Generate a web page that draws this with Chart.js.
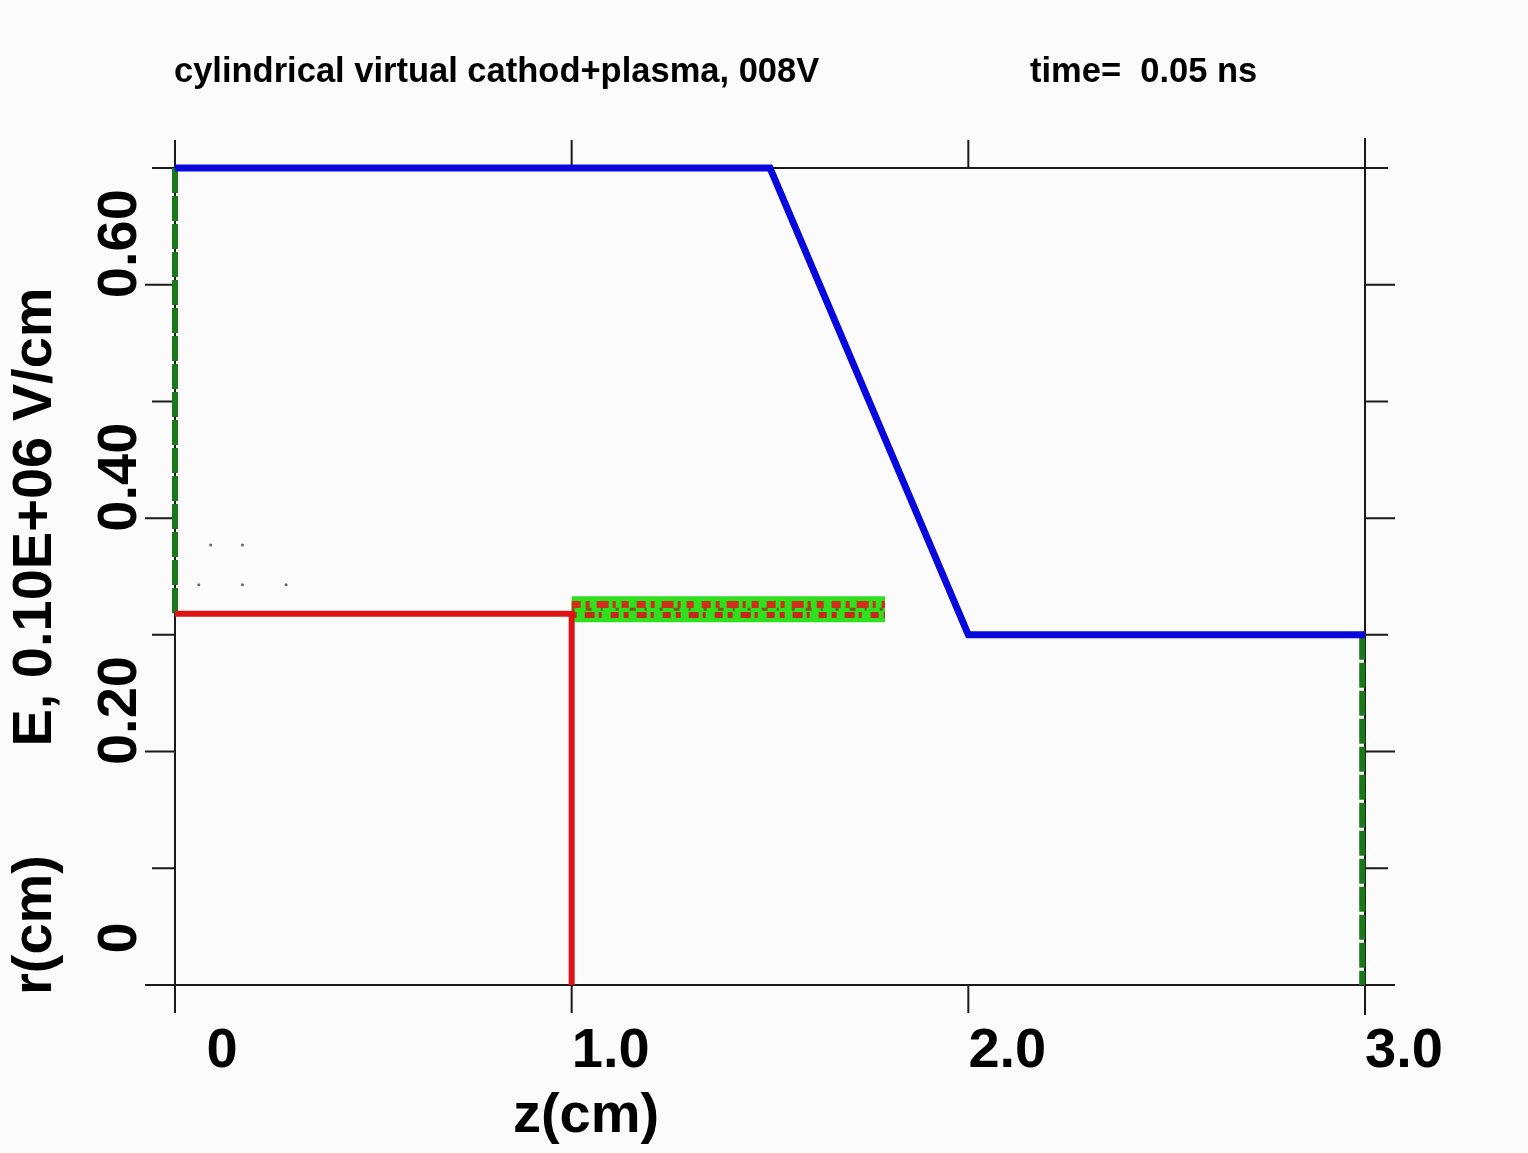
<!DOCTYPE html>
<html>
<head>
<meta charset="utf-8">
<script src="https://cdn.jsdelivr.net/npm/chart.js@4.4.1/dist/chart.umd.min.js"></script>
<style>
  body { margin: 0; background: #fbfbfb; }
  canvas { display: block; }
</style>
</head>
<body>
<canvas id="plot" width="1528" height="1153"></canvas>
<script>
// values
const titleLeft = 'cylindrical virtual cathod+plasma, 008V';
const titleRight = 'time=  0.05 ns';
const xTitle = 'z(cm)';
const yTitleTop = 'E, 0.10E+06 V/cm';
const yTitleBottom = 'r(cm)';

const xTicks = [0, 1, 2, 3];
const xTickLabels = ['0', '1.0', '2.0', '3.0'];
const yTicks = [0, 0.1, 0.2, 0.3, 0.4, 0.5, 0.6, 0.7];
const yMajor = [0, 0.2, 0.4, 0.6];
const yMajorLabels = ['0', '0.20', '0.40', '0.60'];

// E field (blue)
const zField = [0, 1.5, 2.0, 3.0];
const eField = [0.70, 0.70, 0.30, 0.30];
// cathode outline (red)
const zCathode = [0, 1.0, 1.0];
const rCathode = [0.318, 0.318, 0];
// wall markers (green dashed)
const zWallLeft = [0, 0];
const rWallLeft = [0.70, 0.318];
const zWallRight = [2.993, 2.993];
const rWallRight = [0.30, 0];
// plasma beam band
const zPlasma = [1.0, 1.79];
const rPlasma = [0.322, 0.322];
// stray particles
const zStray = [0.09, 0.17, 0.06, 0.17, 0.28];
const rStray = [0.377, 0.377, 0.343, 0.343, 0.343];

function pts(xs, ys) {
    return xs.map((x, i) => ({x: x, y: ys[i]}));
}

const FONT = '"Liberation Sans", Arial, sans-serif';

const frame = {
    id: 'frame',
    beforeDraw(chart) {
        const c = chart.ctx;
        c.save();
        c.fillStyle = '#fbfbfb';
        c.fillRect(0, 0, chart.width, chart.height);
        c.restore();
    },
    beforeDatasetsDraw(chart) {
        const c = chart.ctx;
        const x = chart.scales.x, y = chart.scales.y;
        const L = x.getPixelForValue(0), R = x.getPixelForValue(3);
        const T = y.getPixelForValue(0.7), B = y.getPixelForValue(0);
        c.save();
        c.strokeStyle = '#1a1a1a';
        c.lineWidth = 2;
        c.beginPath();
        // vertical axes, sticking out top and bottom
        c.moveTo(L, T - 28); c.lineTo(L, B + 28);
        c.moveTo(R, T - 30); c.lineTo(R, B + 30);
        // x ticks top and bottom
        xTicks.forEach(v => {
            const px = x.getPixelForValue(v);
            c.moveTo(px, T - 28); c.lineTo(px, T);
            c.moveTo(px, B); c.lineTo(px, B + 28);
        });
        // y ticks, the labelled ones longer
        yTicks.forEach(v => {
            const py = y.getPixelForValue(v);
            const major = yMajor.some(m => Math.abs(m - v) < 1e-6);
            const len = major ? 30 : 23;
            if (v === 0 || Math.abs(v - 0.7) < 1e-6) {
                c.moveTo(L - len, py); c.lineTo(R + len, py);
            } else {
                c.moveTo(L - len, py); c.lineTo(L, py);
                c.moveTo(R, py); c.lineTo(R + len, py);
            }
        });
        c.stroke();
        c.restore();
    },
    afterDraw(chart) {
        const c = chart.ctx;
        const x = chart.scales.x, y = chart.scales.y;
        c.save();
        c.fillStyle = '#000';
        c.font = 'bold 34.5px ' + FONT;
        c.textBaseline = 'alphabetic';
        c.textAlign = 'left';
        c.fillText(titleLeft, 174, 82);
        c.fillText(titleRight, 1030, 82);

        c.font = 'bold 56px ' + FONT;
        c.textAlign = 'center';
        c.textBaseline = 'middle';
        xTicks.forEach((v, i) => {
            const shift = xTickLabels[i] === '0' ? 47 : 39;
            c.fillText(xTickLabels[i], x.getPixelForValue(v) + shift, 1052);
        });
        c.fillText(xTitle, 586, 1117);

        yMajor.forEach((v, i) => {
            const shift = yMajorLabels[i] === '0' ? 47 : 41;
            c.save();
            c.translate(121, y.getPixelForValue(v) - shift);
            c.rotate(-Math.PI / 2);
            c.fillText(yMajorLabels[i], 0, 0);
            c.restore();
        });
        [[yTitleTop, 517], [yTitleBottom, 925]].forEach(t => {
            c.save();
            c.translate(36, t[1]);
            c.rotate(-Math.PI / 2);
            c.fillText(t[0], 0, 0);
            c.restore();
        });
        c.restore();
    }
};

const line = (data, color, width, extra) => Object.assign({
    data: data,
    borderColor: color,
    backgroundColor: color,
    borderWidth: width,
    pointRadius: 0,
    fill: false,
    tension: 0,
    clip: false,
    borderCapStyle: 'butt',
    borderJoinStyle: 'miter'
}, extra || {});

// Chart.js paints dataset 0 last, so the list runs top layer first
new Chart(document.getElementById('plot'), {
    type: 'line',
    data: {
        datasets: [
            {
                type: 'scatter',
                data: pts(zStray, rStray),
                pointRadius: 1.5,
                pointBackgroundColor: '#666',
                pointBorderWidth: 0,
                showLine: false,
                clip: false
            },
            line(pts(zField, eField), '#0808dc', 7),
            line(pts(zCathode, rCathode), '#dc1414', 6),
            line(pts(zWallLeft, rWallLeft), '#1a7a1a', 6, {borderDash: [25, 3]}),
            line(pts(zWallRight, rWallRight), '#1a7a1a', 6, {borderDash: [25, 3]}),
            line(pts(zPlasma, rPlasma), '#7a5a1a', 3,
                 {borderDash: [3, 11, 6, 9, 2, 13]}),
            line(pts(zPlasma, rPlasma.map(r => r - 0.005)), '#c8281a', 6,
                 {borderDash: [5, 8, 10, 4, 3, 9, 8, 5]}),
            line(pts(zPlasma, rPlasma.map(r => r + 0.004)), '#d0301a', 7,
                 {borderDash: [9, 5, 4, 7, 12, 4, 3, 6, 7, 8]}),
            line(pts(zPlasma, rPlasma), '#2ee01e', 26)
        ]
    },
    options: {
        responsive: false,
        animation: false,
        layout: { padding: { left: 175, right: 163, top: 168, bottom: 168 } },
        plugins: { legend: { display: false }, tooltip: { enabled: false } },
        scales: {
            x: { type: 'linear', min: 0, max: 3, display: false },
            y: { type: 'linear', min: 0, max: 0.7, display: false }
        }
    },
    plugins: [frame]
});
</script>
</body>
</html>
